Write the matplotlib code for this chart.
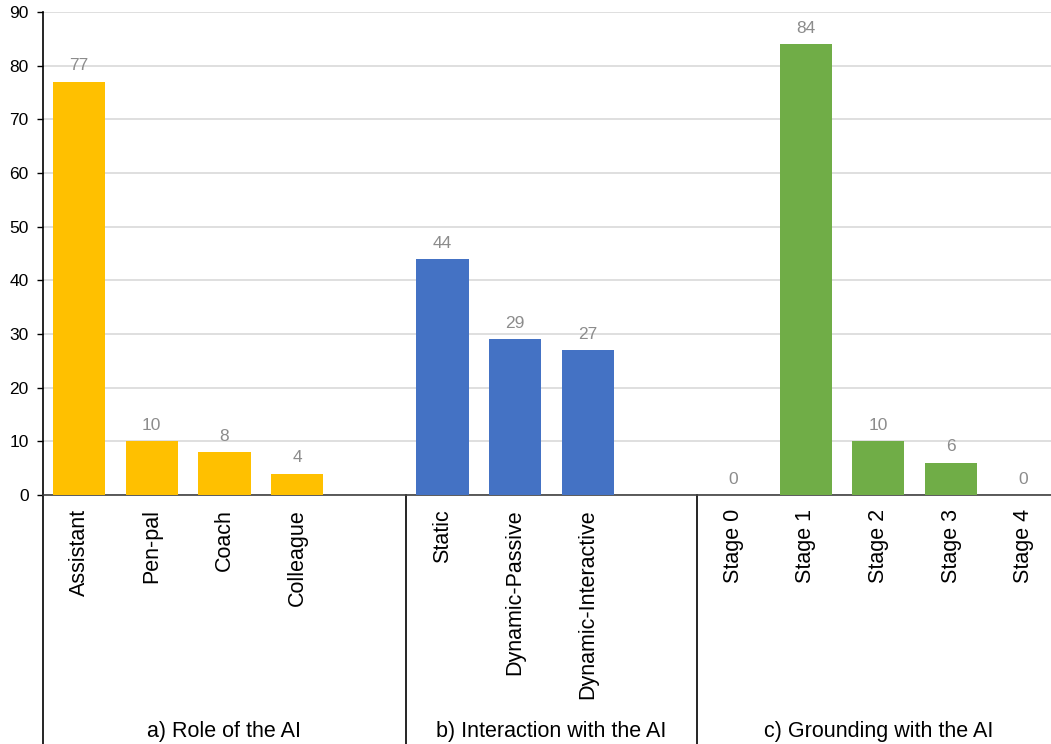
import matplotlib.pyplot as plt
from matplotlib.transforms import blended_transform_factory

# categories (empty string = spacer slot inside a group)
categories = ["Assistant", "Pen-pal", "Coach", "Colleague", "",
              "Static", "Dynamic-Passive", "Dynamic-Interactive", "",
              "Stage 0", "Stage 1", "Stage 2", "Stage 3", "Stage 4"]
values = [77, 10, 8, 4, None,
          44, 29, 27, None,
          0, 84, 10, 6, 0]
colors = ["#FFC000"] * 5 + ["#4472C4"] * 4 + ["#70AD47"] * 5
group_names = ["a) Role of the AI", "b) Interaction with the AI", "c) Grounding with the AI"]
group_spans = [(-0.5, 4.5), (4.5, 8.5), (8.5, 13.5)]

plt.rcParams['font.family'] = ['Liberation Sans', 'DejaVu Sans']

fig = plt.figure(figsize=(10.51, 7.44), dpi=100)
ax = fig.add_axes([42.7 / 1051, 249 / 744, (1060 - 42.7) / 1051, 483 / 744])

xs = [i for i, v in enumerate(values) if v is not None]
hs = [v for v in values if v is not None]
cs = [colors[i] for i in xs]
ax.bar(xs, hs, width=0.72, color=cs, zorder=3)

for x, h in zip(xs, hs):
    ax.annotate(str(h), (x, h), xytext=(0, 6), textcoords="offset points",
                ha="center", va="bottom", color="#8c8c8c", fontsize=12.5)

ax.set_xlim(-0.5, 13.5)
ax.set_ylim(0, 90)
ax.set_yticks(range(0, 91, 10))
ax.yaxis.grid(True, color="#d9d9d9", linewidth=1.2, zorder=0)
ax.set_axisbelow(True)
ax.tick_params(axis="y", labelsize=12.5, length=4, width=1, pad=6)

ax.set_xticks(range(len(categories)))
ax.set_xticklabels(categories, rotation=90, fontsize=15.5, va="top")
ax.tick_params(axis="x", length=0, pad=10)

for s in ["top", "right"]:
    ax.spines[s].set_visible(False)
ax.spines["bottom"].set_color("#404040")
ax.spines["bottom"].set_linewidth(1.2)
ax.spines["left"].set_linewidth(1.2)

# multi-level axis lines and group labels
trans = blended_transform_factory(ax.transData, ax.transAxes)
for x in [-0.5, 4.5, 8.5]:
    ax.plot([x, x], [0, -0.52], transform=trans, color="black",
            linewidth=1.2, clip_on=False)
for name, (a, b) in zip(group_names, group_spans):
    ax.text((a + b) / 2, -0.49, name, transform=trans, ha="center",
            va="center", fontsize=15.5)

plt.savefig("out.png", dpi=100)
